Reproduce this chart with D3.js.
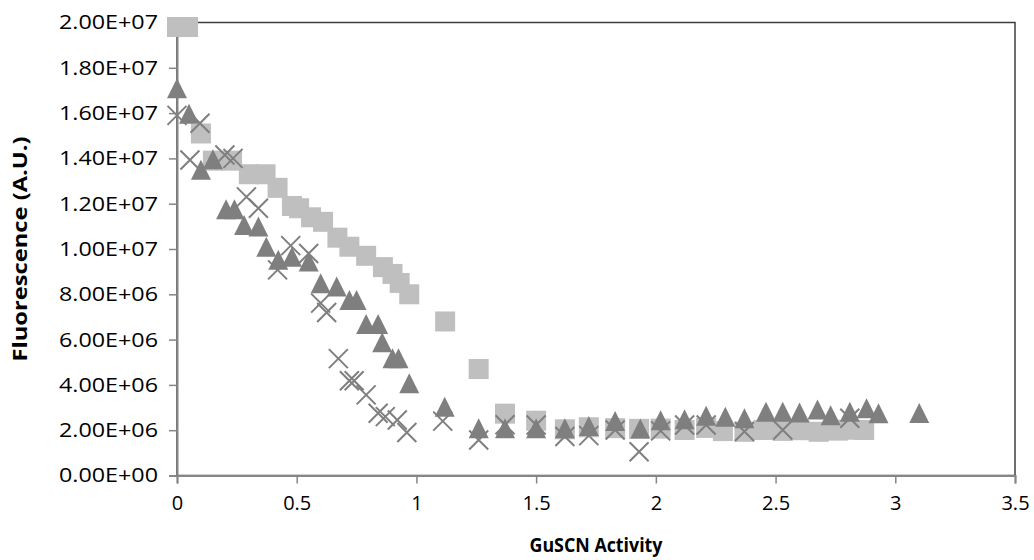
<!DOCTYPE html>
<html>
<head>
<meta charset="utf-8">
<script src="https://cdnjs.cloudflare.com/ajax/libs/d3/7.8.5/d3.min.js"></script>
<style>
  body { margin: 0; background: #fff; }
  svg text { font-family: "Open Sans", "Liberation Sans", Arial, sans-serif; fill: #000; }
</style>
</head>
<body>
<div id="chart"></div>
<script>
'use strict';

// series 1 - light grey squares
var squareX = [0, 0.046, 0.10, 0.15, 0.23, 0.30, 0.37, 0.42, 0.48, 0.51, 0.56, 0.61, 0.67, 0.72, 0.79, 0.86, 0.90, 0.93, 0.97,
    1.12, 1.26, 1.37, 1.50, 1.62, 1.72, 1.83, 1.93, 2.02, 2.12, 2.21, 2.28, 2.37, 2.45, 2.53, 2.60, 2.68, 2.76, 2.80, 2.87];
var squareY = [19.8e6, 19.8e6, 15.1e6, 13.9e6, 13.9e6, 13.3e6, 13.3e6, 12.7e6, 11.9e6, 11.8e6, 11.4e6, 11.2e6, 10.5e6, 10.1e6,
    9.7e6, 9.2e6, 8.9e6, 8.5e6, 8.0e6, 6.8e6, 4.7e6, 2.73e6, 2.42e6, 2.04e6, 2.13e6, 2.09e6, 2.06e6, 2.07e6, 2.01e6, 2.10e6,
    1.96e6, 1.93e6, 2.01e6, 1.97e6, 2.0e6, 1.93e6, 1.98e6, 2.02e6, 2.01e6];

// series 2 - dark grey triangles
var triX = [0, 0.05, 0.10, 0.15, 0.205, 0.24, 0.28, 0.34, 0.373, 0.423, 0.48, 0.55, 0.60, 0.667, 0.72, 0.75, 0.79, 0.84, 0.857,
    0.90, 0.925, 0.97, 1.118, 1.26, 1.37, 1.50, 1.62, 1.72, 1.83, 1.935, 2.02, 2.12, 2.21, 2.29, 2.37, 2.46, 2.53, 2.60, 2.675,
    2.73, 2.81, 2.88, 2.93, 3.10];
var triY = [17.1e6, 15.97e6, 13.5e6, 13.96e6, 11.76e6, 11.76e6, 11.06e6, 10.99e6, 10.1e6, 9.52e6, 9.66e6, 9.45e6, 8.49e6, 8.34e6,
    7.75e6, 7.75e6, 6.69e6, 6.69e6, 5.88e6, 5.18e6, 5.18e6, 4.07e6, 3.04e6, 2.09e6, 2.09e6, 2.09e6, 2.09e6, 2.18e6, 2.41e6,
    2.07e6, 2.44e6, 2.48e6, 2.64e6, 2.59e6, 2.53e6, 2.82e6, 2.82e6, 2.78e6, 2.91e6, 2.66e6, 2.82e6, 2.97e6, 2.75e6, 2.76e6];

// series 3 - crosses
var crossX = [0, 0.054, 0.096, 0.20, 0.234, 0.29, 0.34, 0.42, 0.475, 0.55, 0.60, 0.625, 0.674, 0.72, 0.74, 0.79, 0.84, 0.87,
    0.92, 0.96, 1.11, 1.26, 1.37, 1.50, 1.62, 1.72, 1.83, 1.93, 2.02, 2.12, 2.21, 2.37, 2.53, 2.81];
var crossY = [15.9e6, 13.93e6, 15.55e6, 14.15e6, 14.0e6, 12.3e6, 11.8e6, 9.08e6, 10.15e6, 9.8e6, 7.61e6, 7.2e6, 5.16e6, 4.18e6,
    4.18e6, 3.56e6, 2.75e6, 2.6e6, 2.45e6, 1.9e6, 2.4e6, 1.57e6, 2.24e6, 2.23e6, 1.72e6, 1.76e6, 2.01e6, 1.05e6, 1.97e6,
    2.23e6, 2.23e6, 1.94e6, 2.01e6, 2.53e6];

var xTicks = [0, 0.5, 1, 1.5, 2, 2.5, 3, 3.5];
var xTickLabels = ["0", "0.5", "1", "1.5", "2", "2.5", "3", "3.5"];
var yTicks = [0, 2e6, 4e6, 6e6, 8e6, 10e6, 12e6, 14e6, 16e6, 18e6, 20e6];
var yTickLabels = ["0.00E+00", "2.00E+06", "4.00E+06", "6.00E+06", "8.00E+06", "1.00E+07",
    "1.20E+07", "1.40E+07", "1.60E+07", "1.80E+07", "2.00E+07"];

var width = 1034, height = 560;
var margin = {top: 22.5, right: 19, bottom: 84.5, left: 177};
var w = width - margin.left - margin.right;
var h = height - margin.top - margin.bottom;

var svg = d3.select("#chart").append("svg")
    .attr("width", width)
    .attr("height", height);

var g = svg.append("g").attr("transform", "translate(" + margin.left + "," + margin.top + ")");

var x = d3.scaleLinear().domain([0, 3.5]).range([0, w]);
var y = d3.scaleLinear().domain([0, 2e7]).range([h, 0]);

// plot frame
g.append("rect")
    .attr("x", 0).attr("y", 0)
    .attr("width", w).attr("height", h)
    .attr("fill", "none")
    .attr("stroke", "#3f3f3f")
    .attr("stroke-width", 1.5);

var yAxis = d3.axisLeft(y)
    .tickValues(yTicks)
    .tickSize(8)
    .tickPadding(11)
    .tickFormat(function (d, i) { return yTickLabels[i]; });
var xAxis = d3.axisBottom(x)
    .tickValues(xTicks)
    .tickSize(8)
    .tickPadding(9)
    .tickFormat(function (d, i) { return xTickLabels[i]; });

var gy = g.append("g").call(yAxis);
var gx = g.append("g").attr("transform", "translate(0," + h + ")").call(xAxis);

[gx, gy].forEach(function (ax) {
    ax.select(".domain").attr("stroke", "#868686").attr("stroke-width", 2);
    ax.selectAll(".tick line").attr("stroke", "#868686").attr("stroke-width", 1.5);
    ax.selectAll(".tick text")
        .attr("fill", "#000")
        .style("font-size", "20px")
        .style("font-family", "'Open Sans', 'Liberation Sans', Arial, sans-serif");
});
gy.selectAll(".tick text")
    .attr("textLength", 99)
    .attr("lengthAdjust", "spacingAndGlyphs");
gx.selectAll(".tick text").attr("dy", "0.85em");

// series: squares
var sq = 20;
g.append("g").selectAll("rect")
    .data(squareX.map(function (d, i) { return [d, squareY[i]]; }))
    .enter().append("rect")
    .attr("x", function (d) { return x(d[0]) - sq / 2; })
    .attr("y", function (d) { return y(d[1]) - sq / 2; })
    .attr("width", sq).attr("height", sq)
    .attr("fill", "#bfbfbf");

// series: triangles
var th = 20, tw = 20;
g.append("g").selectAll("path")
    .data(triX.map(function (d, i) { return [d, triY[i]]; }))
    .enter().append("path")
    .attr("d", function (d) {
        var cx = x(d[0]), cy = y(d[1]);
        return "M" + cx + "," + (cy - th / 2) + "L" + (cx + tw / 2) + "," + (cy + th / 2) +
            "L" + (cx - tw / 2) + "," + (cy + th / 2) + "Z";
    })
    .attr("fill", "#7f7f7f");

// series: crosses
var cr = 9.5;
g.append("g").selectAll("path")
    .data(crossX.map(function (d, i) { return [d, crossY[i]]; }))
    .enter().append("path")
    .attr("d", function (d) {
        var cx = x(d[0]), cy = y(d[1]);
        return "M" + (cx - cr) + "," + (cy - cr) + "L" + (cx + cr) + "," + (cy + cr) +
            "M" + (cx - cr) + "," + (cy + cr) + "L" + (cx + cr) + "," + (cy - cr);
    })
    .attr("fill", "none")
    .attr("stroke", "#7f7f7f")
    .attr("stroke-width", 2);

// axis titles
svg.append("text")
    .attr("x", margin.left + w / 2)
    .attr("y", 552)
    .attr("text-anchor", "middle")
    .attr("textLength", 133)
    .attr("lengthAdjust", "spacingAndGlyphs")
    .style("font-size", "19px")
    .style("font-weight", "bold")
    .text("GuSCN Activity");

svg.append("text")
    .attr("transform", "translate(27," + (margin.top + h / 2) + ") rotate(-90)")
    .attr("text-anchor", "middle")
    .attr("textLength", 225)
    .attr("lengthAdjust", "spacingAndGlyphs")
    .style("font-size", "19px")
    .style("font-weight", "bold")
    .text("Fluorescence (A.U.)");
</script>
</body>
</html>
